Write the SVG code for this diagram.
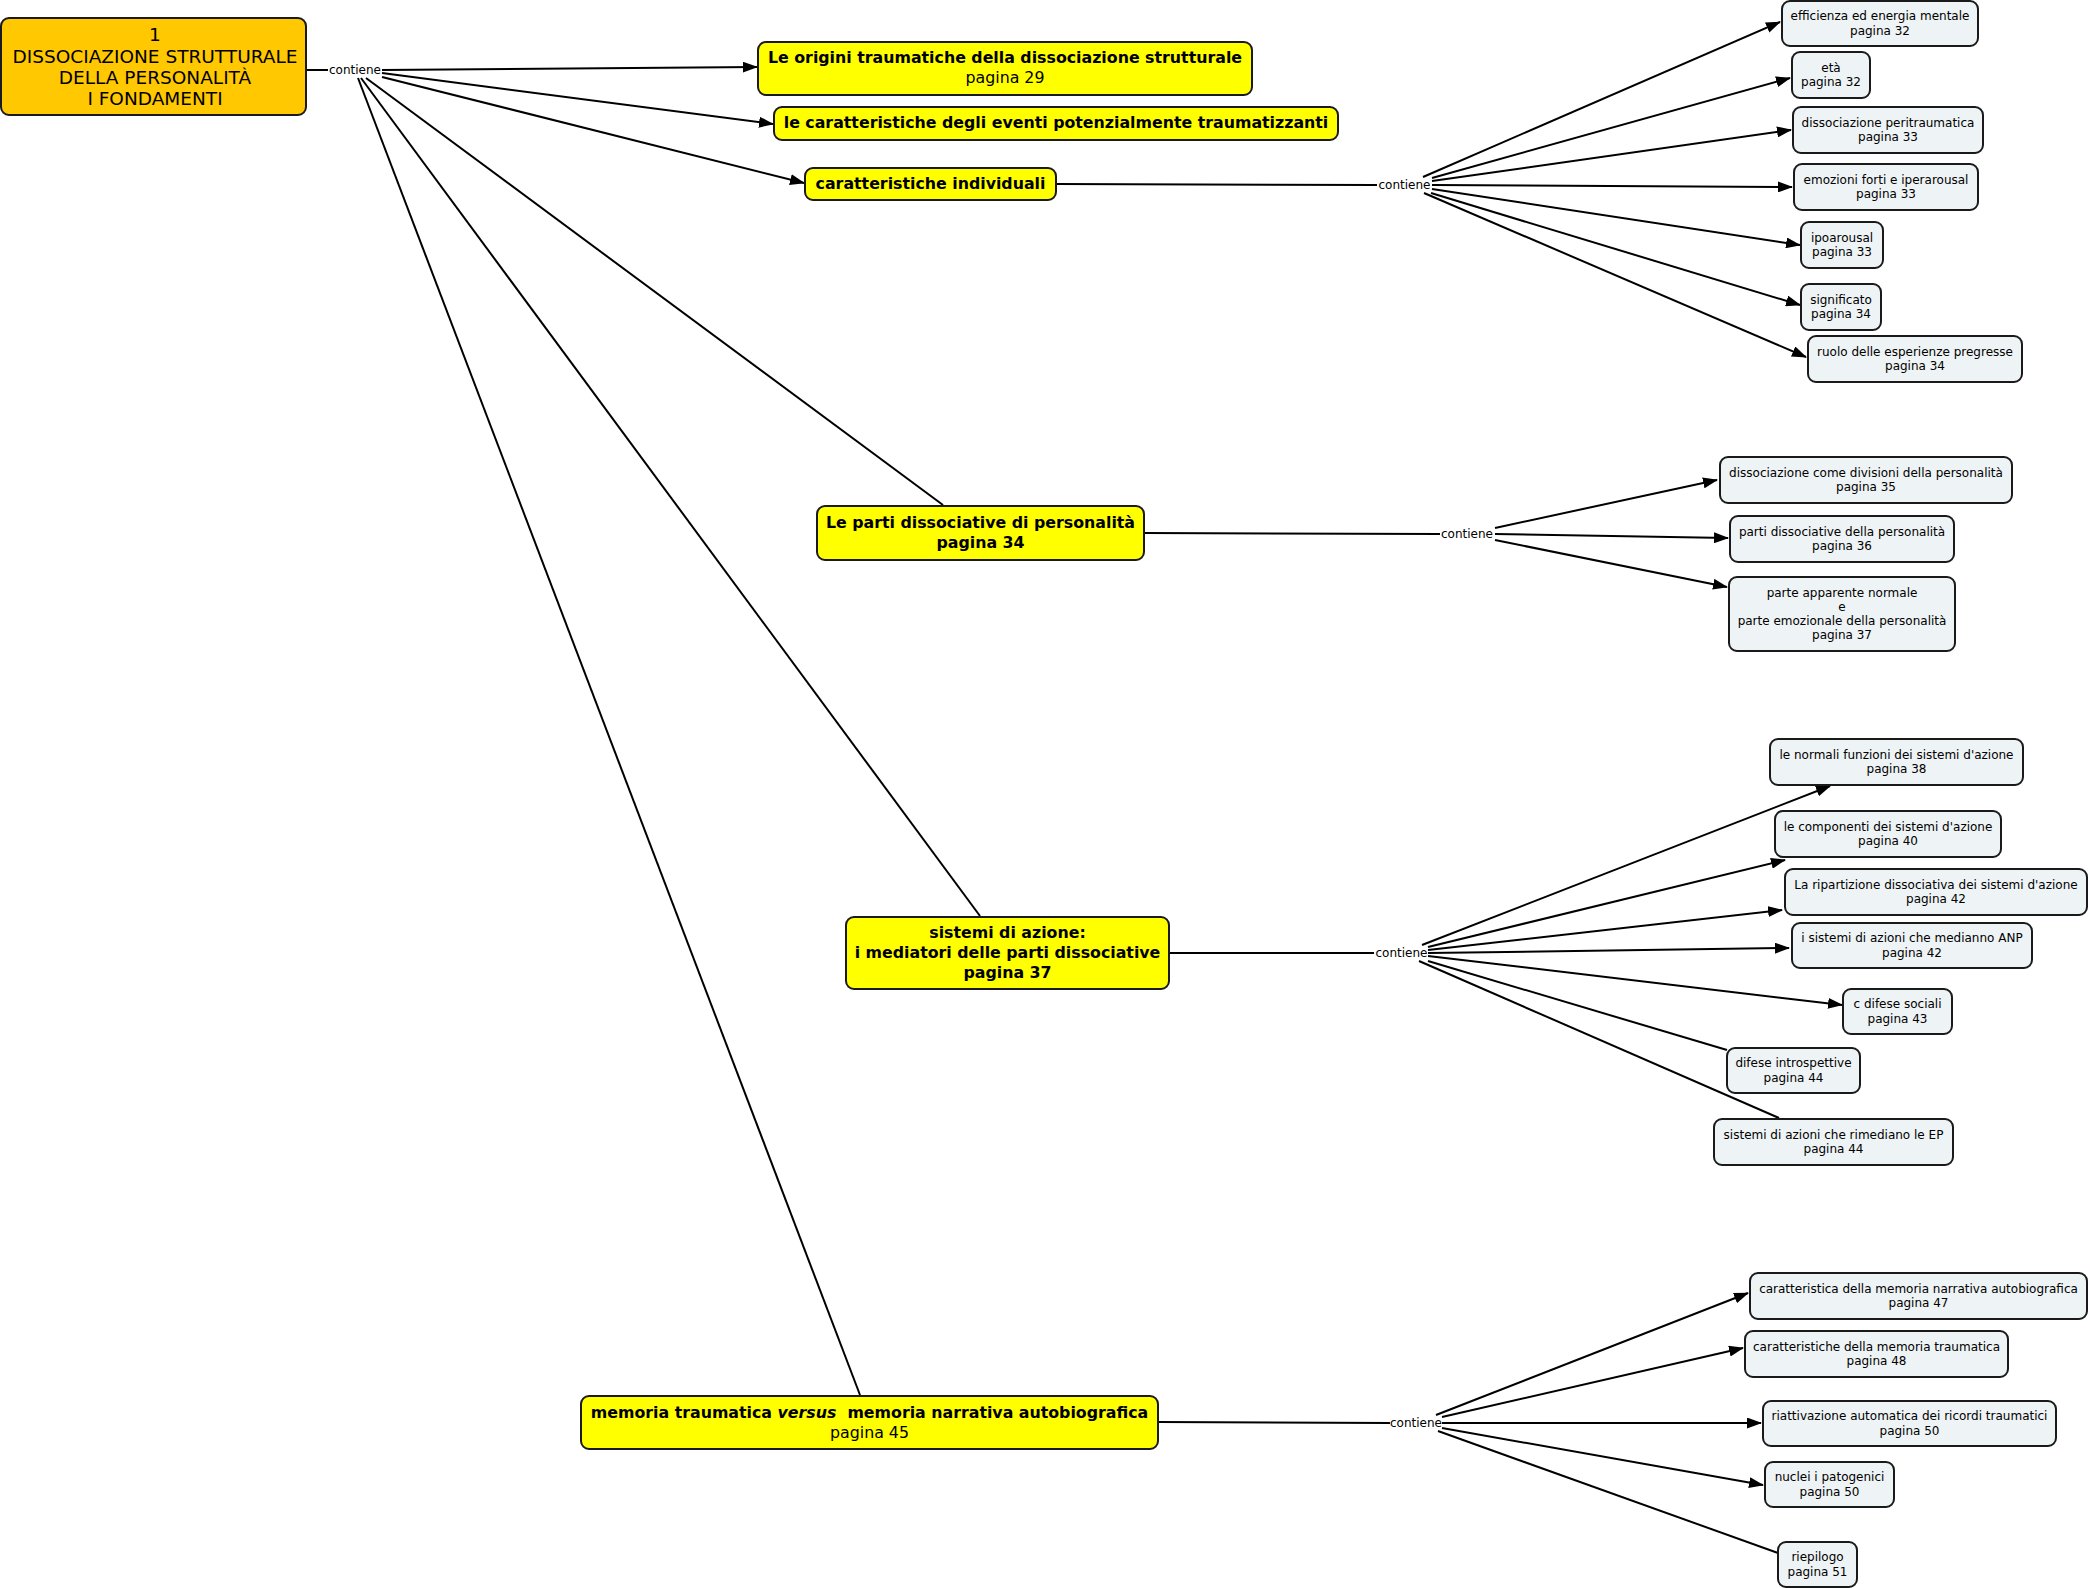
<svg xmlns="http://www.w3.org/2000/svg" width="2090" height="1588" viewBox="0 0 2090 1588">
<defs>
<style>
.n rect{stroke:#1a1a1a;stroke-width:2}
.root rect{fill:#FFC800}
.main rect{fill:#FFFF00}
.leaf rect{fill:#EEF3F5}
text{font-family:"DejaVu Sans",Verdana,sans-serif;fill:#000;text-anchor:middle}
.root text{font-size:18.5px}
.main text{font-size:15.8px}
.b{font-weight:bold}
.leaf text{font-size:12px}
.lbl{font-size:12px}
.c path{stroke:#000;stroke-width:2;fill:none}
.c .a{marker-end:url(#ah)}
</style>
<marker id="ah" markerUnits="userSpaceOnUse" markerWidth="15" markerHeight="11" refX="14" refY="5.5" orient="auto">
<path d="M0,0 L15,5.5 L0,11 z" fill="#000"/>
</marker>
</defs>
<rect width="2090" height="1588" fill="#fff"/>

<g class="c" id="connectors">
<path d="M306,70 L328,70"/>
<path class="a" d="M382,70 L757,67"/>
<path class="a" d="M382,73 L773,124"/>
<path class="a" d="M382,77 L804,183"/>
<path d="M366,78 L943,505"/>
<path d="M361,78 L980,916"/>
<path d="M358,78 L860,1395"/>

<path d="M1056,184 L1377,185"/>
<path class="a" d="M1423,177 L1780,22"/>
<path class="a" d="M1432,178 L1790,78"/>
<path class="a" d="M1432,181 L1791,130"/>
<path class="a" d="M1432,185 L1792,187"/>
<path class="a" d="M1432,189 L1800,245"/>
<path class="a" d="M1431,193 L1800,305"/>
<path class="a" d="M1424,193 L1806,357"/>

<path d="M1144,533 L1440,534"/>
<path class="a" d="M1495,528 L1717,480"/>
<path class="a" d="M1495,534 L1728,538"/>
<path class="a" d="M1495,540 L1727,587"/>

<path d="M1169,953 L1374,953"/>
<path class="a" d="M1422,945 L1830,786"/>
<path class="a" d="M1428,947 L1785,860"/>
<path class="a" d="M1428,950 L1782,910"/>
<path class="a" d="M1428,953 L1789,948"/>
<path class="a" d="M1428,956 L1842,1005"/>
<path d="M1428,961 L1727,1050"/>
<path d="M1419,961 L1779,1118"/>

<path d="M1158,1422 L1390,1423"/>
<path class="a" d="M1436,1415 L1748,1293"/>
<path class="a" d="M1442,1417 L1743,1348"/>
<path class="a" d="M1442,1423 L1761,1423"/>
<path class="a" d="M1442,1428 L1763,1485"/>
<path d="M1438,1431 L1778,1553"/>

<text class="lbl" x="355" y="74">contiene</text>
<text class="lbl" x="1404.5" y="189">contiene</text>
<text class="lbl" x="1467" y="538">contiene</text>
<text class="lbl" x="1401.5" y="957">contiene</text>
<text class="lbl" x="1416" y="1427">contiene</text>
</g>

<g id="root" class="n root">
<rect x="1" y="18" width="305" height="97" rx="8"/>
<text x="155" y="41.2">1</text>
<text x="155" y="62.9">DISSOCIAZIONE STRUTTURALE</text>
<text x="155" y="84.1">DELLA PERSONALITÀ</text>
<text x="155" y="105.3">I FONDAMENTI</text>
</g>

<g id="n-origini" class="n main">
<rect x="758" y="42" width="494" height="53" rx="8"/>
<text class="b" x="1005" y="62.5">Le origini traumatiche della dissociazione strutturale</text>
<text x="1005" y="82.5">pagina 29</text>
</g>
<g id="n-eventi" class="n main">
<rect x="774" y="107" width="564" height="33" rx="8"/>
<text class="b" x="1056" y="127.8">le caratteristiche degli eventi potenzialmente traumatizzanti</text>
</g>
<g id="n-individuali" class="n main">
<rect x="805" y="168" width="251" height="32" rx="8"/>
<text class="b" x="930.5" y="188.8">caratteristiche individuali</text>
</g>
<g id="n-parti" class="n main">
<rect x="817" y="506" width="327" height="54" rx="8"/>
<text class="b" x="980.5" y="527.8">Le parti dissociative di personalità</text>
<text class="b" x="980.5" y="547.8">pagina 34</text>
</g>
<g id="n-sistemi" class="n main">
<rect x="846" y="917" width="323" height="72" rx="8"/>
<text class="b" x="1007.5" y="937.8">sistemi di azione:</text>
<text class="b" x="1007.5" y="957.8">i mediatori delle parti dissociative</text>
<text class="b" x="1007.5" y="977.8">pagina 37</text>
</g>
<g id="n-memoria" class="n main">
<rect x="581" y="1396" width="577" height="53" rx="8"/>
<text class="b" x="869.5" y="1417.8">memoria traumatica <tspan font-style="italic">versus</tspan>&#160; memoria narrativa autobiografica</text>
<text x="869.5" y="1437.8">pagina 45</text>
</g>

<g id="n-efficienza" class="n leaf">
<rect x="1782" y="1" width="196" height="45" rx="8"/>
<text x="1880" y="20">efficienza ed energia mentale</text>
<text x="1880" y="34.5">pagina 32</text>
</g>
<g id="n-eta" class="n leaf">
<rect x="1792" y="52" width="78" height="46" rx="8"/>
<text x="1831" y="71.5">età</text>
<text x="1831" y="86">pagina 32</text>
</g>
<g id="n-peritraumatica" class="n leaf">
<rect x="1793" y="107" width="190" height="46" rx="8"/>
<text x="1888" y="126.5">dissociazione peritraumatica</text>
<text x="1888" y="141">pagina 33</text>
</g>
<g id="n-emozioni" class="n leaf">
<rect x="1794" y="164" width="184" height="46" rx="8"/>
<text x="1886" y="183.5">emozioni forti e iperarousal</text>
<text x="1886" y="198">pagina 33</text>
</g>
<g id="n-ipoarousal" class="n leaf">
<rect x="1801" y="222" width="82" height="46" rx="8"/>
<text x="1842" y="241.5">ipoarousal</text>
<text x="1842" y="256">pagina 33</text>
</g>
<g id="n-significato" class="n leaf">
<rect x="1801" y="284" width="80" height="46" rx="8"/>
<text x="1841" y="303.5">significato</text>
<text x="1841" y="318">pagina 34</text>
</g>
<g id="n-ruolo" class="n leaf">
<rect x="1808" y="336" width="214" height="46" rx="8"/>
<text x="1915" y="355.5">ruolo delle esperienze pregresse</text>
<text x="1915" y="370">pagina 34</text>
</g>

<g id="n-divisioni" class="n leaf">
<rect x="1720" y="457" width="292" height="46" rx="8"/>
<text x="1866" y="476.5">dissociazione come divisioni della personalità</text>
<text x="1866" y="491">pagina 35</text>
</g>
<g id="n-partidiss" class="n leaf">
<rect x="1730" y="516" width="224" height="46" rx="8"/>
<text x="1842" y="535.5">parti dissociative della personalità</text>
<text x="1842" y="550">pagina 36</text>
</g>
<g id="n-anp-ep" class="n leaf">
<rect x="1729" y="577" width="226" height="74" rx="8"/>
<text x="1842" y="596.5">parte apparente normale</text>
<text x="1842" y="610.8">e</text>
<text x="1842" y="625.1">parte emozionale della personalità</text>
<text x="1842" y="639.4">pagina 37</text>
</g>

<g id="n-normali" class="n leaf">
<rect x="1770" y="739" width="253" height="46" rx="8"/>
<text x="1896.5" y="758.5">le normali funzioni dei sistemi d'azione</text>
<text x="1896.5" y="773">pagina 38</text>
</g>
<g id="n-componenti" class="n leaf">
<rect x="1775" y="811" width="226" height="46" rx="8"/>
<text x="1888" y="830.5">le componenti dei sistemi d'azione</text>
<text x="1888" y="845">pagina 40</text>
</g>
<g id="n-ripartizione" class="n leaf">
<rect x="1785" y="869" width="302" height="46" rx="8"/>
<text x="1936" y="888.5">La ripartizione dissociativa dei sistemi d'azione</text>
<text x="1936" y="903">pagina 42</text>
</g>
<g id="n-anp" class="n leaf">
<rect x="1792" y="923" width="240" height="45" rx="8"/>
<text x="1912" y="942">i sistemi di azioni che medianno ANP</text>
<text x="1912" y="956.5">pagina 42</text>
</g>
<g id="n-sociali" class="n leaf">
<rect x="1843" y="989" width="109" height="45" rx="8"/>
<text x="1897.5" y="1008">c difese sociali</text>
<text x="1897.5" y="1022.5">pagina 43</text>
</g>
<g id="n-introspettive" class="n leaf">
<rect x="1727" y="1048" width="133" height="45" rx="8"/>
<text x="1793.5" y="1067">difese introspettive</text>
<text x="1793.5" y="1081.5">pagina 44</text>
</g>
<g id="n-rimediano" class="n leaf">
<rect x="1714" y="1119" width="239" height="46" rx="8"/>
<text x="1833.5" y="1138.5">sistemi di azioni che rimediano le EP</text>
<text x="1833.5" y="1153">pagina 44</text>
</g>

<g id="n-narrativa" class="n leaf">
<rect x="1750" y="1273" width="337" height="46" rx="8"/>
<text x="1918.5" y="1292.5">caratteristica della memoria narrativa autobiografica</text>
<text x="1918.5" y="1307">pagina 47</text>
</g>
<g id="n-traumatica" class="n leaf">
<rect x="1745" y="1331" width="263" height="46" rx="8"/>
<text x="1876.5" y="1350.5">caratteristiche della memoria traumatica</text>
<text x="1876.5" y="1365">pagina 48</text>
</g>
<g id="n-riattivazione" class="n leaf">
<rect x="1763" y="1401" width="293" height="45" rx="8"/>
<text x="1909.5" y="1420">riattivazione automatica dei ricordi traumatici</text>
<text x="1909.5" y="1434.5">pagina 50</text>
</g>
<g id="n-nuclei" class="n leaf">
<rect x="1765" y="1462" width="129" height="45" rx="8"/>
<text x="1829.5" y="1481">nuclei i patogenici</text>
<text x="1829.5" y="1495.5">pagina 50</text>
</g>
<g id="n-riepilogo" class="n leaf">
<rect x="1778" y="1542" width="79" height="45" rx="8"/>
<text x="1817.5" y="1561">riepilogo</text>
<text x="1817.5" y="1575.5">pagina 51</text>
</g>
</svg>
